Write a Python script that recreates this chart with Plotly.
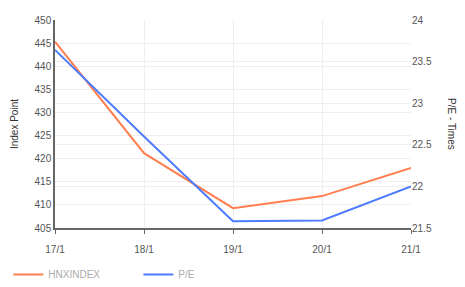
import plotly.graph_objects as go

dates = ["17/1", "18/1", "19/1", "20/1", "21/1"]
hnx_index = [445.3, 421.2, 409.3, 411.9, 418.0]
pe_ratio = [23.64, 22.6, 21.58, 21.59, 22.0]
left_ticks = [405, 410, 415, 420, 425, 430, 435, 440, 445, 450]
right_ticks = [21.5, 22, 22.5, 23, 23.5, 24]

fig = go.Figure()
fig.add_trace(go.Scatter(x=dates, y=hnx_index, name="HNXINDEX", mode="lines",
                         line=dict(color="#FF7F50", width=2)))
fig.add_trace(go.Scatter(x=dates, y=pe_ratio, name="P/E", mode="lines", yaxis="y2",
                         line=dict(color="#4D7CFE", width=2)))

fnt = dict(family="Liberation Sans, Arial, sans-serif", size=10, color="#555")
fig.update_layout(
    width=465, height=287,
    margin=dict(l=47, r=62, t=12, b=67, autoexpand=False),
    paper_bgcolor="white", plot_bgcolor="white",
    font=fnt,
    showlegend=True,
    legend=dict(orientation="h", x=-0.131, y=-0.224, xanchor="left", yanchor="middle",
                font=dict(size=10, color="#aaa"), itemwidth=30, entrywidth=85),
    xaxis=dict(range=[0, 4], showgrid=True, gridcolor="#eee", showline=True,
               linecolor="#666", linewidth=1.5, ticks="outside", tickcolor="#666",
               ticklen=4, ticklabelstandoff=7, tickfont=fnt, zeroline=False,
               automargin=False),
    yaxis=dict(range=[405, 450], tickvals=left_ticks, showgrid=True, gridcolor="#eee",
               showline=True, linecolor="#666", linewidth=1.5, tickfont=fnt,
               zeroline=False, automargin=False),
    yaxis2=dict(range=[21.5, 24], tickvals=right_ticks, overlaying="y", side="right",
                showgrid=True, gridcolor="#eee", showline=False, tickfont=fnt,
                zeroline=False, automargin=False),
    annotations=[
        dict(text="Index Point", textangle=-90, x=-0.115, y=0.5, xanchor="center",
             xref="paper", yref="paper", showarrow=False,
             font=dict(size=10, color="#333")),
        dict(text="P/E - Times", textangle=90, x=1.115, y=0.5, xanchor="center",
             xref="paper", yref="paper", showarrow=False,
             font=dict(size=10, color="#333"))],
)
fig.write_html("out.html")
